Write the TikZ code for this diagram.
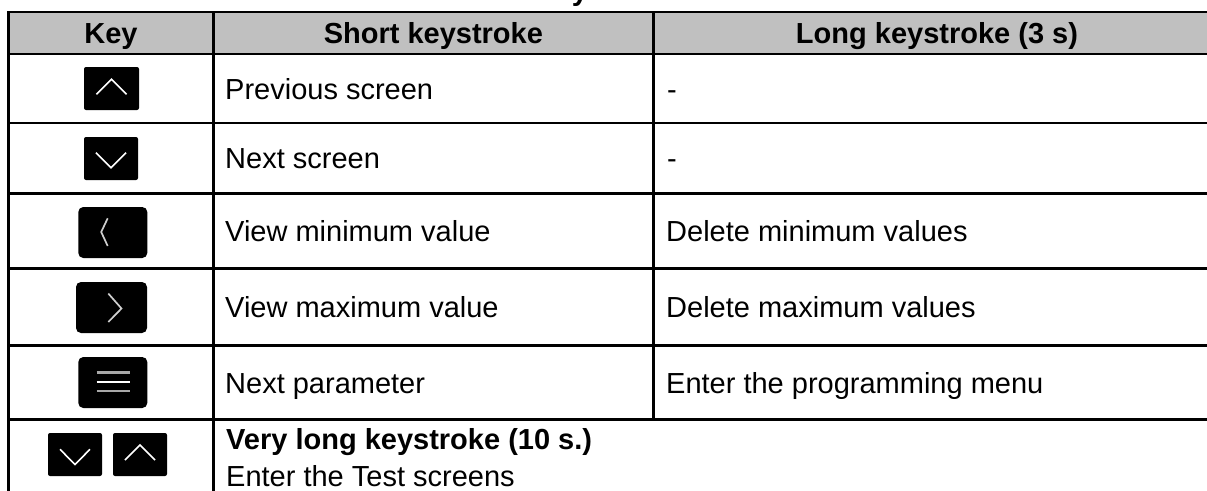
\documentclass[tikz,border=0pt]{standalone}
\usepackage{fontspec}
\setmainfont{Liberation Sans}
\definecolor{hdrgray}{HTML}{C0C0C0}
\definecolor{chevgray}{HTML}{CFCFCF}
\definecolor{bargray}{HTML}{A8A8A8}
\begin{document}
\begin{tikzpicture}[x=1pt,y=-1pt,
  gridline/.style={line width=2.6pt, black, line cap=rect},
  bodytxt/.style={anchor=base west, inner sep=0pt, font=\fontsize{29}{37.7}\selectfont},
  headtxt/.style={anchor=base, inner sep=0pt, font=\fontsize{29}{37.7}\selectfont\bfseries},
  boldtxt/.style={bodytxt, font=\fontsize{29}{37.7}\selectfont\bfseries},
  keysmall/.style={fill=black, rounded corners=2pt, minimum width=54pt, minimum height=43pt, inner sep=0pt},
  keylarge/.style={fill=black, rounded corners=5pt, minimum width=69pt, minimum height=51pt, inner sep=0pt},
  chevron/.style={white, line width=1.6pt},
  chevsoft/.style={chevgray, line width=1.7pt},
  menubar/.style={bargray, line width=2.6pt},
  menumid/.style={white, line width=1.8pt}]
\useasboundingbox (0,0) rectangle (1207,490);
\clip (0,0) rectangle (1207,490);

% title descender cut off at the top
\node[headtxt] (titletail) at (580,0) {y};

% header background
\fill[hdrgray] (8.5,12) rectangle (1230,54);

% table rules
\draw[gridline] (1230,12) -- (8.5,12) -- (8.5,500);
\foreach \yy in {54,123,193.3,268.3,345.5,419.3}
  \draw[gridline] (8.5,\yy) -- (1230,\yy);
\draw[gridline] (213.3,12) -- (213.3,500);
\draw[gridline] (653.4,12) -- (653.4,419.3);

% header texts
\node[headtxt] (hkey) at (111,43.5) {Key};
\node[headtxt] (hshort) at (433.4,43.5) {Short keystroke};
\node[headtxt] (hlong) at (937,43.5) {Long keystroke (3 s)};

% row 1: up
\node[keysmall, minimum width=55pt] (kup) at (111.5,88.5) {};
\draw[chevron] (96.5,94.3) -- (111.5,79.3) -- (126.5,94.3);
\node[bodytxt] (s1) at (225,99.5) {Previous screen};
\node[bodytxt] (l1) at (667,99.5) {-};

% row 2: down
\node[keysmall] (kdown) at (111,158.5) {};
\draw[chevron] (96,152.7) -- (111,167.7) -- (126,152.7);
\node[bodytxt] (s2) at (225,168.5) {Next screen};
\node[bodytxt] (l2) at (667,168.5) {-};

% row 3: left
\node[keylarge] (kleft) at (112.8,232.5) {};
\draw[chevsoft] (107.7,218.3) -- (101.2,232) -- (107.7,246);
\node[bodytxt] (s3) at (225,241.5) {View minimum value};
\node[bodytxt] (l3) at (666,241.5) {Delete minimum values};

% row 4: right
\node[keylarge, minimum width=71pt] (kright) at (111.5,307.5) {};
\draw[chevsoft] (108.3,293.5) -- (121.5,308.5) -- (108.3,322);
\node[bodytxt] (s4) at (225,317.5) {View maximum value};
\node[bodytxt] (l4) at (666,317.5) {Delete maximum values};

% row 5: menu
\node[keylarge] (kmenu) at (112.8,382.5) {};
\draw[menubar] (96.5,372.3) -- (129.5,372.3);
\draw[menubar] (96.5,391) -- (129.5,391);
\draw[menumid] (96.5,381.7) -- (129.5,381.7);
\node[bodytxt] (s5) at (225,393) {Next parameter};
\node[bodytxt] (l5) at (666,393) {Enter the programming menu};

% row 6: down + up
\node[keysmall] (kdown2) at (75,454.5) {};
\draw[chevron] (60,449.3) -- (75,464.5) -- (90,449.3);
\node[keysmall] (kup2) at (140,454.5) {};
\draw[chevron] (125,460) -- (140,445) -- (155,460);
\node[boldtxt] (s6a) at (226,449) {Very long keystroke (10 s.)};
\node[bodytxt] (s6b) at (226,486.7) {Enter the Test screens};
\end{tikzpicture}
\end{document}
